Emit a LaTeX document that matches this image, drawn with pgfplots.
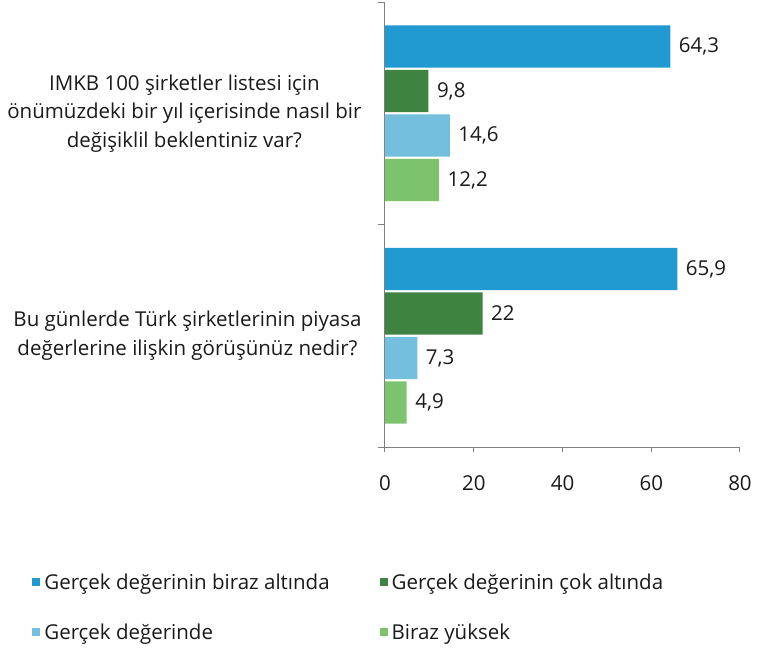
\documentclass[border=0pt]{standalone}
\usepackage{fontspec}
\setmainfont{Open Sans}
\usepackage{pgfplots}
\pgfplotsset{compat=1.18}

\definecolor{cblue}{HTML}{2199D1}
\definecolor{cdgreen}{HTML}{3E8440}
\definecolor{clblue}{HTML}{74BFDD}
\definecolor{clgreen}{HTML}{7DC36E}
\definecolor{axgray}{HTML}{808080}
\definecolor{txt}{HTML}{1A1A1A}

\newcommand{\chartfont}{\fontsize{20.5pt}{28.5pt}\selectfont}

\begin{document}
\begin{tikzpicture}
\useasboundingbox (-385pt,-202pt) rectangle (385pt,447pt);
\begin{axis}[
    at={(0,0)}, anchor=south west,
    scale only axis,
    width=355pt, height=445pt,
    xbar, bar width=0.19,
    xmin=0, xmax=80,
    ymin=-0.5, ymax=1.5,
    y dir=reverse,
    axis x line=bottom, axis y line=left,
    axis line style={axgray, line width=1pt, -},
    xtick={0,20,40,60,80},
    ytick={0,1},
    yticklabels={{IMKB 100 şirketler listesi için\\önümüzdeki bir yıl içerisinde nasıl bir\\değişiklil beklentiniz var?},
                 {Bu günlerde Türk şirketlerinin piyasa\\değerlerine ilişkin görüşünüz nedir?}},
    minor ytick={-0.5,0.5,1.5},
    major y tick style={draw=none},
    minor y tick style={axgray, line width=1pt},
    major x tick style={axgray, line width=1pt},
    tick align=outside,
    major tick length=5pt, minor tick length=7pt,
    /pgf/number format/assume math mode=true,
    /pgf/number format/use comma,
    xticklabel style={font=\chartfont, text=txt, yshift=-20pt},
    yticklabel style={font=\chartfont, text=txt, align=center, xshift=-15pt},
    nodes near coords,
    every node near coord/.append style={font=\chartfont, text=txt, anchor=west, xshift=5pt},
    legend columns=2,
    legend cell align=left,
    legend image code/.code={\fill[#1] (0pt,-4pt) rectangle (8pt,4pt);},
    legend style={draw=none, fill=none, font=\chartfont, text=txt,
        at={(axis description cs:-0.994,-0.275)}, anchor=north west,
        inner sep=0pt, row sep=25pt,
        nodes={inner sep=4pt},
        /tikz/every even column/.append style={column sep=46pt}},
]
\addplot[fill=cblue, draw=none, bar shift=-0.3] coordinates {(64.3,0) (65.9,1)};
\addlegendentry{Gerçek değerinin biraz altında}
\addplot[fill=cdgreen, draw=none, bar shift=-0.1] coordinates {(9.8,0) (22,1)};
\addlegendentry{Gerçek değerinin çok altında}
\addplot[fill=clblue, draw=none, bar shift=0.1] coordinates {(14.6,0) (7.3,1)};
\addlegendentry{Gerçek değerinde}
\addplot[fill=clgreen, draw=none, bar shift=0.3] coordinates {(12.2,0) (4.9,1)};
\addlegendentry{Biraz yüksek}
\end{axis}
\end{tikzpicture}
\end{document}
